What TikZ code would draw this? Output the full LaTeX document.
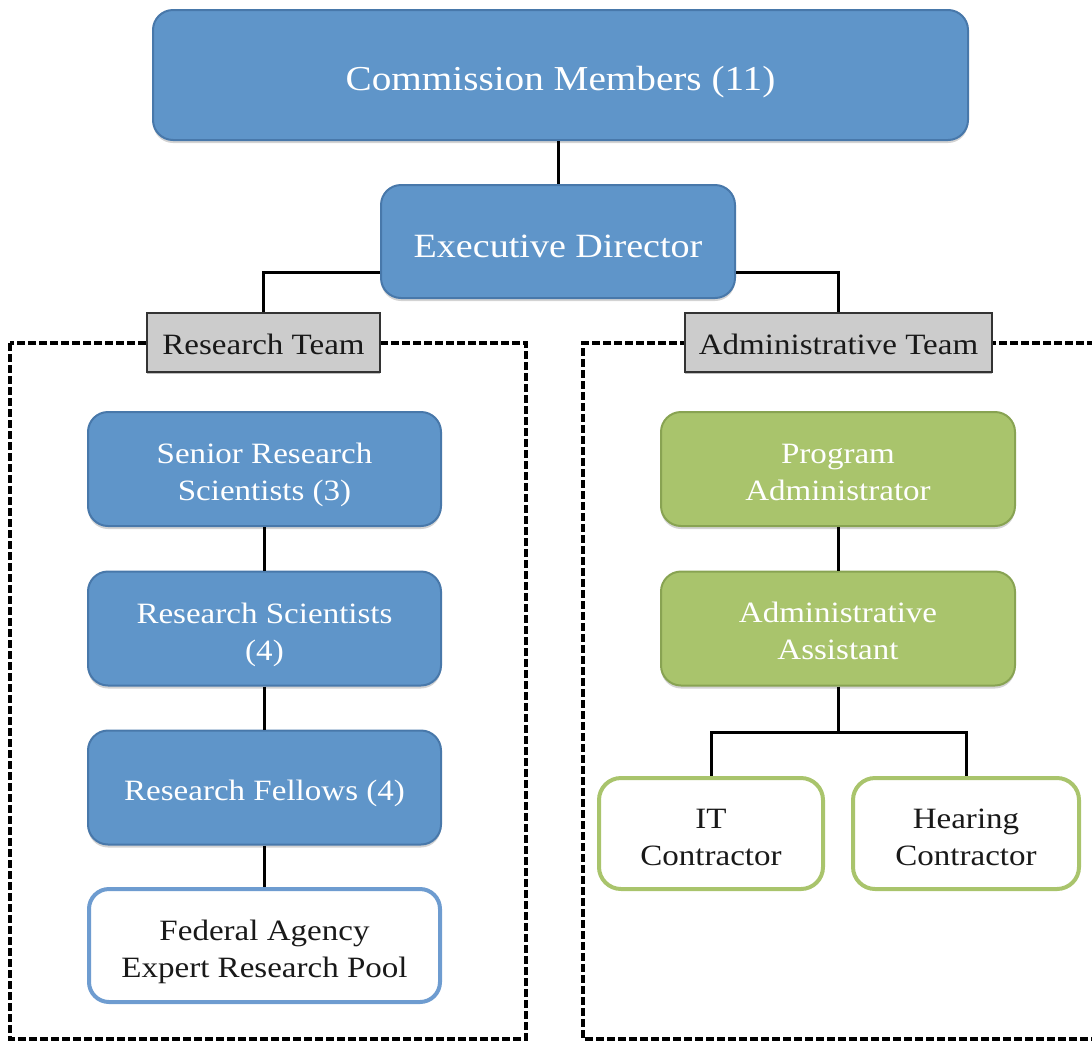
\documentclass[tikz,border=0pt]{standalone}
\usepackage{fontspec}
\setmainfont{Liberation Serif}[FakeStretch=1.12]
\usetikzlibrary{shadows,calc}
\definecolor{bfill}{RGB}{95,149,201}
\definecolor{bdraw}{RGB}{72,120,170}
\definecolor{gfill}{RGB}{169,196,108}
\definecolor{gdraw}{RGB}{136,163,82}
\definecolor{fedline}{RGB}{110,156,208}
\definecolor{txtdark}{RGB}{25,25,25}
\definecolor{lblfill}{RGB}{204,204,204}
\tikzset{
  box/.style={rounded corners=20pt, minimum width=353pt, minimum height=114pt, inner sep=0pt,
    align=center, line width=2pt,
    drop shadow={shadow xshift=0pt, shadow yshift=-3pt, opacity=0.35}},
  bluebox/.style={box, fill=bfill, draw=bdraw, text=white},
  greenbox/.style={box, fill=gfill, draw=gdraw, text=white},
  fedbox/.style={rounded corners=20pt, minimum width=351pt, minimum height=113pt, inner sep=0pt,
    align=center, fill=white, draw=fedline, line width=4pt, text=txtdark},
  contbox/.style={rounded corners=22pt, minimum height=111pt, inner sep=0pt,
    align=center, fill=white, draw=gfill, line width=4pt, text=txtdark},
  teamlbl/.style={fill=lblfill, draw=black!80, line width=2pt, minimum height=59pt, inner sep=0pt,
    text=txtdark, drop shadow={shadow xshift=0pt, shadow yshift=-2pt, opacity=0.5}},
  conn/.style={line width=3pt, black},
  teamframe/.style={line width=3.5pt, black, dash pattern=on 8pt off 3pt},
  bigtxt/.style={font=\fontsize{34}{40}\selectfont, text height=31pt, text depth=0pt},
  midtxt/.style={font=\fontsize{29.5}{37}\selectfont, text height=26pt, text depth=0pt},
  twoline/.style={font=\fontsize{29.5}{37}\selectfont, text height=63pt, text depth=0pt},
}
\begin{document}
\begin{tikzpicture}[x=1pt,y=-1pt]
\useasboundingbox (0,0) rectangle (1092,1042);
% team frames
\draw[teamframe] (10,343) rectangle (526,1039);
\draw[teamframe] (1095,343) -- (583,343) -- (583,1039) -- (1095,1039);
% top nodes
\node[bluebox, bigtxt, font=\fontsize{35}{40}\selectfont, minimum width=815pt, minimum height=130pt] (comm) at (560.5,75) {Commission Members (11)};
\node[bluebox, bigtxt, minimum width=354pt, minimum height=113pt] (exec) at (558,241.5) {Executive Director};
% team labels
\node[teamlbl, midtxt, text height=24pt, minimum width=233pt] (rt) at (263.5,342.5) {Research Team};
\node[teamlbl, midtxt, text height=24pt, minimum width=307pt] (at) at (838.5,342.5) {Administrative Team};
% research team
\node[bluebox, twoline] (srs) at (264.5,469) {Senior Research\\Scientists (3)};
\node[bluebox, twoline] (rs) at (264.5,628.5) {Research Scientists\\(4)};
\node[bluebox, midtxt] (rf) at (264.5,787.5) {Research Fellows (4)};
\node[fedbox, twoline] (fed) at (264.5,945.5) {Federal Agency\\Expert Research Pool};
% administrative team
\node[greenbox, twoline, minimum width=354pt] (pa) at (838,469) {Program\\Administrator};
\node[greenbox, twoline, text height=61pt, minimum width=354pt] (aa) at (838,628.5) {Administrative\\Assistant};
\node[contbox, twoline, minimum width=224pt] (it) at (711,833.5) {IT\\Contractor};
\node[contbox, twoline, minimum width=226pt] (hc) at (966,833.5) {Hearing\\Contractor};
% connectors
\draw[conn] (exec.north |- comm.south) -- (exec.north);
\draw[conn] ($(exec.south west)+(0,-27)$) -| (rt.north);
\draw[conn] ($(exec.south east)+(0,-27)$) -| (at.north);
\draw[conn] (srs) -- (rs);
\draw[conn] (rs) -- (rf);
\draw[conn] (rf) -- (fed);
\draw[conn] (pa) -- (aa);
\coordinate (br) at (838,732);
\draw[conn] (aa.south) -- (br) -| (it.north);
\draw[conn] (br) -| (hc.north);
\end{tikzpicture}
\end{document}
